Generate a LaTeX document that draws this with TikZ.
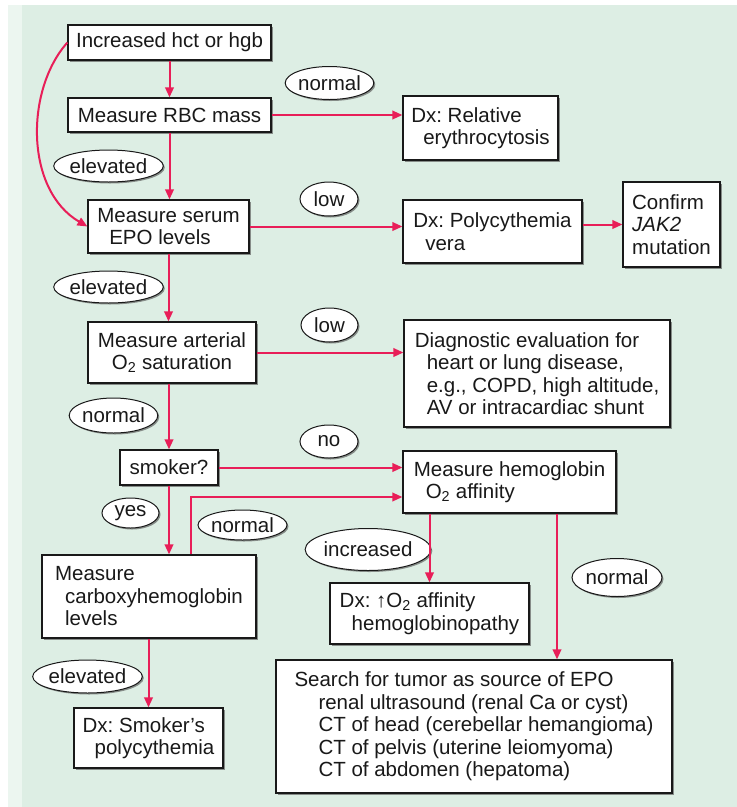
\documentclass[tikz,border=0pt]{standalone}
\usepackage{fontspec}
\setmainfont{Liberation Sans}
\usetikzlibrary{shapes.geometric,shadows,arrows.meta,calc}
\definecolor{bggreen}{RGB}{221,238,228}
\definecolor{bgpale}{RGB}{236,246,240}
\definecolor{arrowred}{RGB}{232,30,88}
\frenchspacing
\begin{document}
\begin{tikzpicture}[x=1pt,y=-1pt,
  every node/.style={font=\fontsize{20.5}{22.5}\selectfont, text=black!90},
  box/.style={draw=black!90, line width=1.2pt, fill=white, align=left, inner sep=0pt,
    drop shadow={shadow xshift=2pt, shadow yshift=-2pt, fill=black!70, opacity=0.6}},
  oval/.style={ellipse, draw=black!90, line width=1pt, fill=white, inner sep=0pt,
    drop shadow={shadow xshift=1.5pt, shadow yshift=-1.5pt, fill=black!70, opacity=0.6}},
  arr/.style={draw=arrowred, line width=2pt, -{Triangle[length=10pt,width=8.5pt]}}
]
\useasboundingbox (0,0) rectangle (737,807);
\fill[white] (0,0) rectangle (737,807);
\fill[bgpale] (8,5) rectangle (737,807);
\fill[bggreen] (22,5) rectangle (737,807);

% boxes
\node[box, minimum width=203pt, minimum height=35pt] (inc) at (169.5,42.5) {Increased hct or hgb};
\node[box, minimum width=203pt, minimum height=34pt] (rbc) at (169.5,115) {Measure RBC mass};
\node[box, minimum width=155pt, minimum height=64pt] (rel) at (480.5,128) {Dx: Relative\\\hspace*{12pt}erythrocytosis};
\node[box, minimum width=161pt, minimum height=53pt] (epo) at (168.5,226.5) {Measure serum\\\hspace*{12pt}EPO levels};
\node[box, minimum width=179pt, minimum height=63pt] (pv) at (492.5,231.5) {Dx: Polycythemia\\\hspace*{12pt}vera};
\node[box, minimum width=97pt, minimum height=85pt] (jak) at (671.5,224.5) {Confirm\\\textit{JAK2}\\mutation};
\node[box, minimum width=168pt, minimum height=61pt, align=center] (art) at (172,352.5) {Measure arterial\\O\textsubscript{2} saturation};
\node[box, minimum width=266pt, minimum height=107pt] (diag) at (537,373.5) {Diagnostic evaluation for\\\hspace*{12pt}heart or lung disease,\\\hspace*{12pt}e.g., COPD, high altitude,\\\hspace*{12pt}AV or intracardiac shunt};
\node[box, minimum width=98pt, minimum height=35pt] (smk) at (169,467.5) {smoker?};
\node[box, minimum width=213pt, minimum height=62pt] (hemo) at (509.5,482) {Measure hemoglobin\\\hspace*{12pt}O\textsubscript{2} affinity};
\node[box, minimum width=214pt, minimum height=83pt] (carb) at (149,596.5) {Measure\\\hspace*{10pt}carboxyhemoglobin\\\hspace*{10pt}levels};
\node[box, minimum width=149pt, minimum height=60pt] (smp) at (148.5,738) {Dx: Smoker’s\\\hspace*{12pt}polycythemia};
\node[box, minimum width=199pt, minimum height=61pt] (aff) at (429.5,613.5) {Dx: ↑O\textsubscript{2} affinity\\\hspace*{12pt}hemoglobinopathy};
\node[box, minimum width=396pt, minimum height=133pt] (srch) at (474,726.5) {Search for tumor as source of EPO\\\hspace*{24pt}renal ultrasound (renal Ca or cyst)\\\hspace*{24pt}CT of head (cerebellar hemangioma)\\\hspace*{24pt}CT of pelvis (uterine leiomyoma)\\\hspace*{24pt}CT of abdomen (hepatoma)\hspace*{13pt}};

% ovals
\node[oval, minimum width=85pt, minimum height=33pt] (n1) at (329.5,83) {normal};
\node[oval, minimum width=97pt, minimum height=32pt] (el1) at (108.5,166) {elevated};
\node[oval, minimum width=58pt, minimum height=34pt] (lo1) at (329,199) {low};
\node[oval, minimum width=97pt, minimum height=32pt] (el2) at (108.5,287) {elevated};
\node[oval, minimum width=57pt, minimum height=34pt] (lo2) at (329.5,325) {low};
\node[oval, minimum width=87pt, minimum height=35pt] (n2) at (113.5,415.5) {normal};
\node[oval, minimum width=58pt, minimum height=33pt] (no) at (329,441.5) {no};
\node[oval, minimum width=57pt, minimum height=30pt] (yes) at (130.5,513) {yes};
\node[oval, minimum width=89pt, minimum height=30pt] (n3) at (242.5,525) {normal};
\node[oval, minimum width=110pt, minimum height=42pt] (inc2) at (368,549.5) {increased};
\node[oval, minimum width=90pt, minimum height=38pt] (n4) at (617,577.5) {normal};
\node[oval, minimum width=101pt, minimum height=33pt] (el3) at (87.5,676.5) {elevated};

% connectors
\coordinate (c2) at ([xshift=42pt]carb.north);
\coordinate (h3) at ([yshift=-15pt]hemo.west);
\coordinate (h2) at ([xshift=47.5pt]hemo.south);

\draw[arr] (inc.south) -- (inc.south |- rbc.north);
\draw[arr] (rbc.east) -- (rbc.east -| rel.west);
\draw[arr] (inc.west) .. controls (25,90) and (25,190) .. (epo.west);
\draw[arr] (rbc.south) -- (rbc.south |- epo.north);
\draw[arr] (epo.east) -- (epo.east -| pv.west);
\draw[arr] (pv.east |- jak.west) -- (jak.west);
\draw[arr] (epo.south) -- (epo.south |- art.north);
\draw[arr] (art.east) -- (art.east -| diag.west);
\draw[arr] (smk.north |- art.south) -- (smk.north);
\draw[arr] (smk.east) -- (smk.east -| hemo.west);
\draw[arr] (smk.south) -- (smk.south |- carb.north);
\draw[arr] (c2) |- (h3);
\draw[arr] (carb.south -| smp.north) -- (smp.north);
\draw[arr] (aff.north |- hemo.south) -- (aff.north);
\draw[arr] (h2) -- (h2 |- srch.north);
\end{tikzpicture}
\end{document}
